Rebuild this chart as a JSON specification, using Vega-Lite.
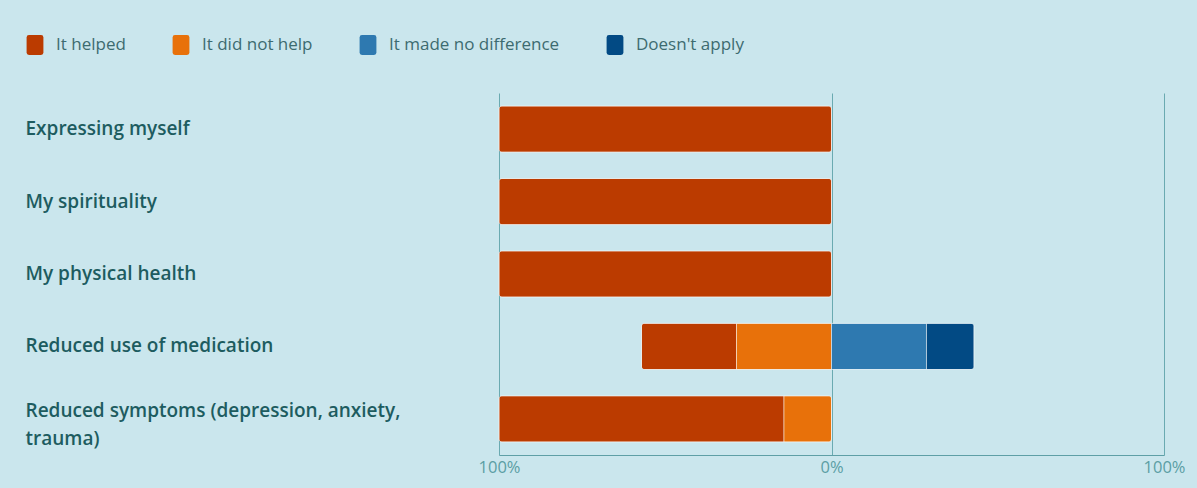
{
  "$schema": "https://vega.github.io/schema/vega-lite/v6.json",
  "width": 665,
  "height": 362,
  "autosize": {"type": "none"},
  "padding": {"left": 499, "top": 93, "right": 33, "bottom": 33},
  "background": "#cae6ed",
  "config": {"view": {"stroke": null}, "font": "Open Sans"},
  "data": {
    "values": [
      {"item": "Expressing myself", "response": "It helped", "value": -100},
      {"item": "My spirituality", "response": "It helped", "value": -100},
      {"item": "My physical health", "response": "It helped", "value": -100},
      {"item": "Reduced use of medication", "response": "It helped", "value": -28.57},
      {"item": "Reduced use of medication", "response": "It did not help", "value": -28.57},
      {"item": "Reduced use of medication", "response": "It made no difference", "value": 28.57},
      {"item": "Reduced use of medication", "response": "Doesn't apply", "value": 14.29},
      {"item": "Reduced symptoms (depression, anxiety, trauma)", "response": "It helped", "value": -85.71},
      {"item": "Reduced symptoms (depression, anxiety, trauma)", "response": "It did not help", "value": -14.29}
    ]
  },
  "transform": [
    {"calculate": "indexof(['It did not help', 'It helped', 'It made no difference', \"Doesn't apply\"], datum.response)", "as": "stackOrder"}
  ],
  "mark": {"type": "bar", "cornerRadius": 3, "stroke": "#ffffff", "strokeOpacity": 0.5, "strokeWidth": 1},
  "encoding": {
    "y": {
      "field": "item",
      "type": "nominal",
      "sort": null,
      "title": null,
      "scale": {"paddingInner": 0.363, "paddingOuter": 0.18},
      "axis": {
        "ticks": false,
        "tickSize": 0,
        "domain": false,
        "grid": false,
        "labelAlign": "left",
        "labelPadding": 474,
        "labelFontSize": 19,
        "labelFontWeight": 600,
        "labelColor": "#1d5c60",
        "labelLimit": 470,
        "labelLineHeight": 28,
        "labelOffset": {"condition": {"test": "datum.value == 'Reduced symptoms (depression, anxiety, trauma)'", "value": -8}, "value": 0},
        "labelExpr": "datum.label == 'Reduced symptoms (depression, anxiety, trauma)' ? ['Reduced symptoms (depression, anxiety,', 'trauma)'] : datum.label"
      }
    },
    "x": {
      "field": "value",
      "type": "quantitative",
      "stack": "zero",
      "title": null,
      "scale": {"domain": [-100, 100], "nice": false},
      "axis": {
        "values": [-100, 0, 100],
        "labelExpr": "abs(datum.value) + '%'",
        "grid": true,
        "gridColor": "#6aaab1",
        "gridOpacity": 1,
        "domainColor": "#5e9fa6",
        "ticks": false,
        "tickSize": 0,
        "labelFontSize": 16.5,
        "labelColor": "#5b9ea4",
        "labelPadding": 4,
        "labelFlush": false
      }
    },
    "order": {"field": "stackOrder", "type": "quantitative"},
    "color": {
      "field": "response",
      "type": "nominal",
      "scale": {
        "domain": ["It helped", "It did not help", "It made no difference", "Doesn't apply"],
        "range": ["#bb3b00", "#e8710a", "#2e79b0", "#024a84"]
      },
      "legend": {
        "orient": "none",
        "legendX": -474,
        "legendY": -58,
        "direction": "horizontal",
        "title": null,
        "symbolType": "M-0.6,-1L0.6,-1Q0.84,-1 0.84,-0.76L0.84,0.76Q0.84,1 0.6,1L-0.6,1Q-0.84,1 -0.84,0.76L-0.84,-0.76Q-0.84,-1 -0.6,-1Z",
        "symbolSize": 400,
        "symbolStrokeWidth": 0,
        "symbolOpacity": 1,
        "labelFontSize": 17,
        "labelColor": "#3d6b70",
        "labelLimit": 300,
        "labelOffset": 11,
        "columnPadding": 45
      }
    }
  }
}
